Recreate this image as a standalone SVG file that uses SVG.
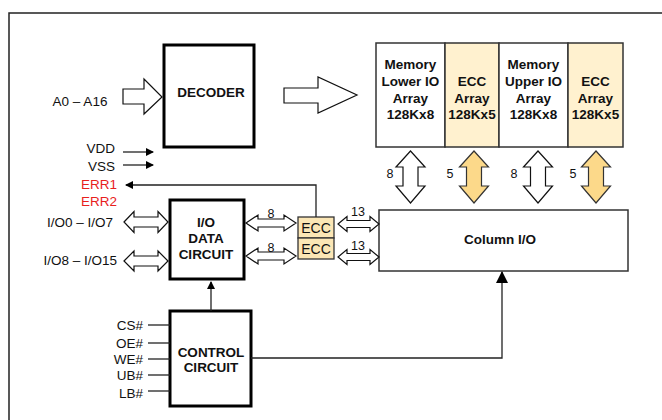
<svg xmlns="http://www.w3.org/2000/svg" width="662" height="420" viewBox="0 0 662 420">
<defs>
<style>
.t{font-family:"Liberation Sans",Arial,sans-serif;font-size:13.5px;fill:#111}
.b{font-family:"Liberation Sans",Arial,sans-serif;font-size:13.5px;font-weight:bold;fill:#111}
.s{font-family:"Liberation Sans",Arial,sans-serif;font-size:12.5px;fill:#111}
.r{fill:#e8201c}
.thick{fill:#fff;stroke:#000;stroke-width:3}
.thin{fill:#fff;stroke:#333;stroke-width:1.5}
.eccf{fill:#fff1cf;stroke:#333;stroke-width:1.5}
.bus{fill:#fff;stroke:#111;stroke-width:1.2}
.ybus{fill:#fcd98a;stroke:#333;stroke-width:1.2}
.ln{fill:none;stroke:#222;stroke-width:1.3}
</style>
<marker id="ah" markerWidth="8" markerHeight="8" refX="7" refY="4" orient="auto" markerUnits="userSpaceOnUse">
<path d="M0,0 L8,4 L0,8 Z" fill="#000"/>
</marker>
<marker id="ah2" markerWidth="12" markerHeight="12" refX="11" refY="6" orient="auto" markerUnits="userSpaceOnUse">
<path d="M0,0 L12,6 L0,12 Z" fill="#000"/>
</marker>
</defs>
<rect width="662" height="420" fill="#fff"/>
<rect x="9" y="13" width="700" height="450" fill="none" stroke="#222" stroke-width="1.5"/>

<g id="decoder">
<rect class="thick" x="164" y="45" width="90" height="102"/>
<text class="b" x="211" y="97" text-anchor="middle">DECODER</text>
</g>

<g id="memory-array">
<rect class="thin" x="376" y="43" width="69" height="104"/>
<rect class="eccf" x="445" y="43" width="54" height="104"/>
<rect class="thin" x="499" y="43" width="69" height="104"/>
<rect class="eccf" x="568" y="43" width="55" height="104"/>
<g class="b" text-anchor="middle">
<text x="410.5" y="69">Memory</text>
<text x="410.5" y="86">Lower IO</text>
<text x="410.5" y="103">Array</text>
<text x="410.5" y="119">128Kx8</text>
<text x="472" y="86">ECC</text>
<text x="472" y="103">Array</text>
<text x="472" y="119">128Kx5</text>
<text x="533.5" y="69">Memory</text>
<text x="533.5" y="86">Upper IO</text>
<text x="533.5" y="103">Array</text>
<text x="533.5" y="119">128Kx8</text>
<text x="595.5" y="86">ECC</text>
<text x="595.5" y="103">Array</text>
<text x="595.5" y="119">128Kx5</text>
</g>
</g>

<g id="column-io">
<rect class="thin" x="379" y="210" width="249" height="61"/>
<text class="b" x="500" y="244" text-anchor="middle">Column I/O</text>
</g>

<g id="io-data-circuit">
<rect class="thick" x="170" y="200" width="74" height="79"/>
<g class="b" text-anchor="middle">
<text x="206" y="227">I/O</text>
<text x="206" y="243">DATA</text>
<text x="206" y="259">CIRCUIT</text>
</g>
</g>

<g id="control-circuit">
<rect class="thick" x="170" y="311" width="81" height="95"/>
<g class="b" text-anchor="middle">
<text x="211" y="357">CONTROL</text>
<text x="211" y="372">CIRCUIT</text>
</g>
</g>

<g id="ecc-1">
<rect x="298" y="217" width="36" height="21" fill="#fbe6b5" stroke="#333" stroke-width="1.3"/>
<text x="316" y="233" text-anchor="middle" style="font-family:'Liberation Sans',Arial,sans-serif;font-size:14px;fill:#111">ECC</text>
</g>
<g id="ecc-2">
<rect x="298" y="238" width="36" height="21" fill="#fbe6b5" stroke="#333" stroke-width="1.3"/>
<text x="316" y="254" text-anchor="middle" style="font-family:'Liberation Sans',Arial,sans-serif;font-size:14px;fill:#111">ECC</text>
</g>

<g id="labels">
<text class="t" x="80" y="106" text-anchor="middle">A0 – A16</text>
<text class="t" x="115" y="153" text-anchor="end">VDD</text>
<text class="t" x="115" y="171" text-anchor="end">VSS</text>
<text class="t r" x="117" y="189" text-anchor="end">ERR1</text>
<text class="t r" x="117" y="206" text-anchor="end">ERR2</text>
<text class="t" x="113" y="227" text-anchor="end">I/O0 – I/O7</text>
<text class="t" x="117" y="265" text-anchor="end">I/O8 – I/O15</text>
<text class="t" x="143" y="330" text-anchor="end">CS#</text>
<text class="t" x="143" y="348" text-anchor="end">OE#</text>
<text class="t" x="143" y="364" text-anchor="end">WE#</text>
<text class="t" x="143" y="380" text-anchor="end">UB#</text>
<text class="t" x="143" y="398" text-anchor="end">LB#</text>
</g>

<g id="connectors">
<path class="bus" d="M123,89 L144,89 L144,79 L162,97 L144,114 L144,104 L123,104 Z"/>
<path class="bus" d="M284,88 L318,88 L318,77 L357,95 L318,113 L318,103 L284,103 Z"/>
<line class="ln" x1="123" y1="152" x2="153" y2="152" marker-end="url(#ah)"/>
<line class="ln" x1="123" y1="165" x2="153" y2="165" marker-end="url(#ah)"/>
<polyline class="ln" points="316,217 316,185 126,185" marker-end="url(#ah)"/>
<path class="bus" d="M124,222 L134,211.5 L134,217 L158,217 L158,211.5 L168,222 L158,232.5 L158,227 L134,227 L134,232.5 Z"/>
<path class="bus" d="M124,261 L134,251 L134,256 L158,256 L158,251 L168,261 L158,271 L158,266 L134,266 L134,271 Z"/>
<path class="bus" d="M246,223 L258,215 L258,219 L284,219 L284,215 L296,223 L284,231 L284,227 L258,227 L258,231 Z"/>
<path class="bus" d="M246,256 L258,248 L258,252 L284,252 L284,248 L296,256 L284,264 L284,260 L258,260 L258,264 Z"/>
<text class="s" x="271" y="218" text-anchor="middle">8</text>
<text class="s" x="271" y="252" text-anchor="middle">8</text>
<path class="bus" d="M338,224 L347,216.5 L347,220.5 L370,220.5 L370,216.5 L379,224 L370,231.5 L370,227.5 L347,227.5 L347,231.5 Z"/>
<path class="bus" d="M338,257 L347,249.5 L347,253.5 L370,253.5 L370,249.5 L379,257 L370,264.5 L370,260.5 L347,260.5 L347,264.5 Z"/>
<text class="s" x="358" y="216" text-anchor="middle">13</text>
<text class="s" x="358" y="250" text-anchor="middle">13</text>
<path class="bus" d="M410.5,151 L425,167 L418,167 L418,186 L425,186 L410.5,203 L396,186 L403,186 L403,167 L396,167 Z"/>
<path class="ybus" d="M474,151 L488.5,167 L481.5,167 L481.5,186 L488.5,186 L474,203 L459.5,186 L466.5,186 L466.5,167 L459.5,167 Z"/>
<path class="bus" d="M538,151 L552.5,167 L545.5,167 L545.5,186 L552.5,186 L538,203 L523.5,186 L530.5,186 L530.5,167 L523.5,167 Z"/>
<path class="ybus" d="M596,151 L610.5,167 L603.5,167 L603.5,186 L610.5,186 L596,203 L581.5,186 L588.5,186 L588.5,167 L581.5,167 Z"/>
<text class="s" x="390" y="178" text-anchor="middle">8</text>
<text class="s" x="450" y="178" text-anchor="middle">5</text>
<text class="s" x="514" y="178" text-anchor="middle">8</text>
<text class="s" x="573" y="178" text-anchor="middle">5</text>
<line class="ln" x1="211" y1="311" x2="211" y2="282" marker-end="url(#ah)"/>
<polyline class="ln" points="251,358 502,358 502,272" marker-end="url(#ah2)"/>
<line class="ln" x1="148" y1="325" x2="170" y2="325"/>
<line class="ln" x1="148" y1="343" x2="170" y2="343"/>
<line class="ln" x1="148" y1="359" x2="170" y2="359"/>
<line class="ln" x1="148" y1="375" x2="170" y2="375"/>
<line class="ln" x1="148" y1="391" x2="170" y2="391"/>
</g>
</svg>
